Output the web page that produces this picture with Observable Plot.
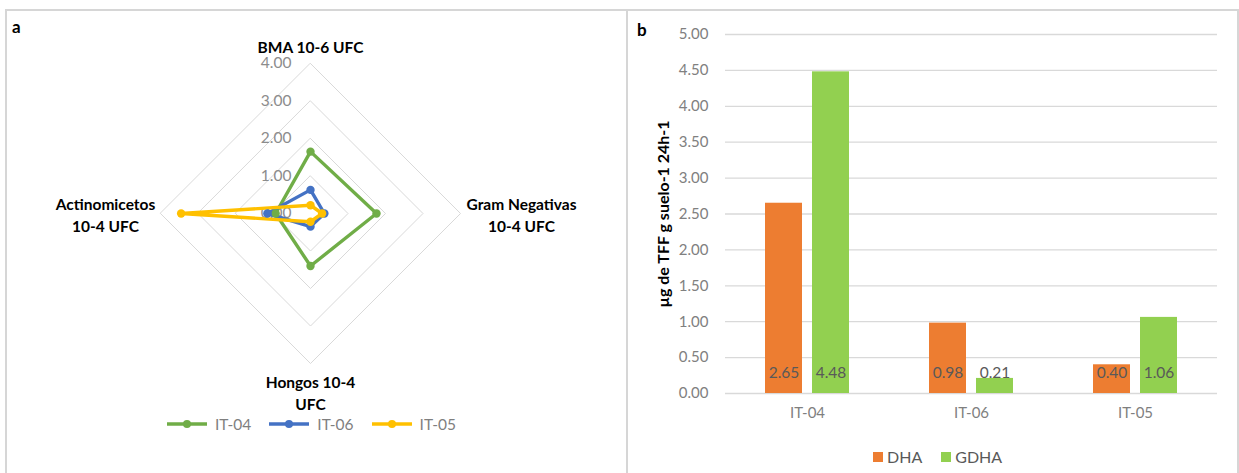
<!DOCTYPE html>
<html><head><meta charset="utf-8">
<script src="https://cdn.jsdelivr.net/npm/d3@7"></script>
<script src="https://cdn.jsdelivr.net/npm/@observablehq/plot@0.6"></script>
<style>
body{margin:0;background:#fff;font-family:Lato,"Open Sans",sans-serif;}
#wrap{position:relative;width:1239px;height:473px;overflow:hidden;background:#fff;}
#frame{position:absolute;left:5px;top:9px;width:1230px;height:480px;border:2px solid #d6d6d6;border-bottom:none;}
#divider{position:absolute;left:626px;top:10px;width:2px;height:470px;background:#d6d6d6;}
.plbl{position:absolute;font-weight:bold;font-size:17px;line-height:17px;color:#000;}
#radar{position:absolute;left:0;top:0;}
#bars{position:absolute;left:628px;top:0;}
.leg{position:absolute;display:flex;align-items:center;font-size:15.5px;color:#7f7f7f;}
.leg .it{display:flex;align-items:center;margin-right:19px;}
.leg .sq{display:inline-block;width:10px;height:10px;margin-right:4px;}
#legB{color:#595959;font-size:16px;}
g[aria-label="y-axis label"] text{font-weight:bold;fill:#000;font-size:16px;}
g[aria-label="y-axis tick label"] text{fill:#808080;font-size:15px;}
g[aria-label="fx-axis tick label"] text{fill:#7f7f7f;font-size:15px;}
</style></head><body>
<div id="wrap">
  <div id="frame"></div>
  <div id="divider"></div>
  <div id="radar"></div>
  <div id="bars"></div>
  <div class="plbl" style="left:12px;top:18px;">a</div>
  <div class="plbl" style="left:637px;top:21px;">b</div>
  <div class="leg" id="legA" style="left:167px;top:415px;"></div>
  <div class="leg" id="legB" style="left:873px;top:447px;"></div>
</div>
<script>
// ---- Panel a: radar data ----
const radarAxes = ["BMA 10-6 UFC", "Gram Negativas\n10-4 UFC", "Hongos 10-4\nUFC", "Actinomicetos\n10-4 UFC"];
const radarSeries = ["IT-04", "IT-06", "IT-05"];
const it04 = [1.65, 1.76, 1.40, 0.93];
const it06 = [0.63, 0.37, 0.35, 1.15];
const it05 = [0.22, 0.31, 0.22, 3.45];
const radarTicks = [0, 1, 2, 3, 4];
const radarColors = ["#70AD47", "#4472C4", "#FFC000"];

// ---- Panel b: bar data ----
const sites = ["IT-04", "IT-06", "IT-05"];
const dha = [2.65, 0.98, 0.40];
const gdha = [4.48, 0.21, 1.06];
const barSeries = ["DHA", "GDHA"];
const barColors = ["#ED7D31", "#92D050"];
const barTicks = [0, 0.5, 1, 1.5, 2, 2.5, 3, 3.5, 4, 4.5, 5];

// polar -> cartesian (axis i clockwise from top)
const ang = i => i * Math.PI / 2;
const radarVals = [it04, it06, it05];
const radarPts = radarSeries.flatMap((s, si) => radarVals[si].map((v, i) => ({series: s, axis: i, x: v * Math.sin(ang(i)), y: v * Math.cos(ang(i))})));
const ringPts = radarTicks.slice(1).flatMap(r => radarAxes.map((a, i) => ({r, x: r * Math.sin(ang(i)), y: r * Math.cos(ang(i))})));
const rMax = radarTicks[radarTicks.length - 1];
const axisPts = radarAxes.map((t, i) => ({t, i, x: rMax * Math.sin(ang(i)), y: rMax * Math.cos(ang(i))}));
const labelOffsets = [[0, -18], [61, 0], [0, 28], [-55, 0]];

const radar = Plot.plot({
  width: 620, height: 412,
  x: {domain: [-4, 4], range: [160, 460], axis: null},
  y: {domain: [-4, 4], range: [363, 63], axis: null},
  color: {domain: radarSeries, range: radarColors},
  style: {fontFamily: "Lato, sans-serif", background: "transparent"},
  marks: [
    Plot.line(ringPts, {x: "x", y: "y", z: "r", curve: "linear-closed", stroke: "#d9d9d9", strokeWidth: 1}),
    Plot.text(radarTicks, {x: 0, y: d => d, text: d => d.toFixed(2), textAnchor: "end", dx: -19, fill: "#8c8c8c", fontSize: 15.5}),
    ...radarSeries.map(s => Plot.line(radarPts.filter(d => d.series === s), {x: "x", y: "y", stroke: "series", strokeWidth: 3.4, curve: "linear-closed"})),
    ...radarSeries.map(s => Plot.dot(radarPts.filter(d => d.series === s), {x: "x", y: "y", fill: "series", r: 4.2})),
    ...axisPts.map((d, i) => Plot.text([d], {x: "x", y: "y", text: "t", dx: labelOffsets[i][0], dy: labelOffsets[i][1], fontWeight: "bold", fontSize: 15.5, lineHeight: 1.42, fill: "#000"}))
  ]
});
document.getElementById("radar").append(radar);

// ---- bars ----
const barData = sites.flatMap((s, i) => [{site: s, series: barSeries[0], v: dha[i]}, {site: s, series: barSeries[1], v: gdha[i]}]);
const bars = Plot.plot({
  width: 609, height: 435,
  marginLeft: 97, marginRight: 20, marginTop: 34, marginBottom: 42,
  style: {fontFamily: "Lato, sans-serif", background: "transparent"},
  fx: {domain: sites, padding: 0, label: null, tickSize: 0, tickPadding: 14, axis: "bottom"},
  x: {domain: barSeries, axis: null, paddingInner: 0.213, paddingOuter: 0.851},
  y: {domain: [0, 5], ticks: barTicks, tickFormat: d => d.toFixed(2), tickSize: 0, tickPadding: 17,
      label: "µg de TFF g suelo-1 24h-1", labelAnchor: "center", labelOffset: 68, labelArrow: "none"},
  color: {domain: barSeries, range: barColors},
  marks: [
    Plot.gridY(barTicks, {stroke: "#d9d9d9", strokeOpacity: 1, strokeWidth: 1.3}),
    Plot.barY(barData, {fx: "site", x: "series", y: "v", fill: "series"}),
    Plot.text(barData, {fx: "site", x: "series", y: 0, text: d => d.v.toFixed(2), dy: -20, fill: "#595959", fontSize: 15.5})
  ]
});
document.getElementById("bars").append(bars);

// ---- legends ----
const legA = document.getElementById("legA");
radarSeries.forEach((s, i) => {
  const it = document.createElement("span"); it.className = "it"; it.style.marginRight = "18px";
  it.innerHTML = `<svg width="40" height="10" style="margin-right:8px"><line x1="0" x2="40" y1="5" y2="5" stroke="${radarColors[i]}" stroke-width="3.5"/><circle cx="20" cy="5" r="4" fill="${radarColors[i]}"/></svg>${s}`;
  legA.append(it);
});
const legB = document.getElementById("legB");
barSeries.forEach((s, i) => {
  const it = document.createElement("span"); it.className = "it";
  it.innerHTML = `<span class="sq" style="background:${barColors[i]}"></span>${s}`;
  legB.append(it);
});
</script>
</body></html>
